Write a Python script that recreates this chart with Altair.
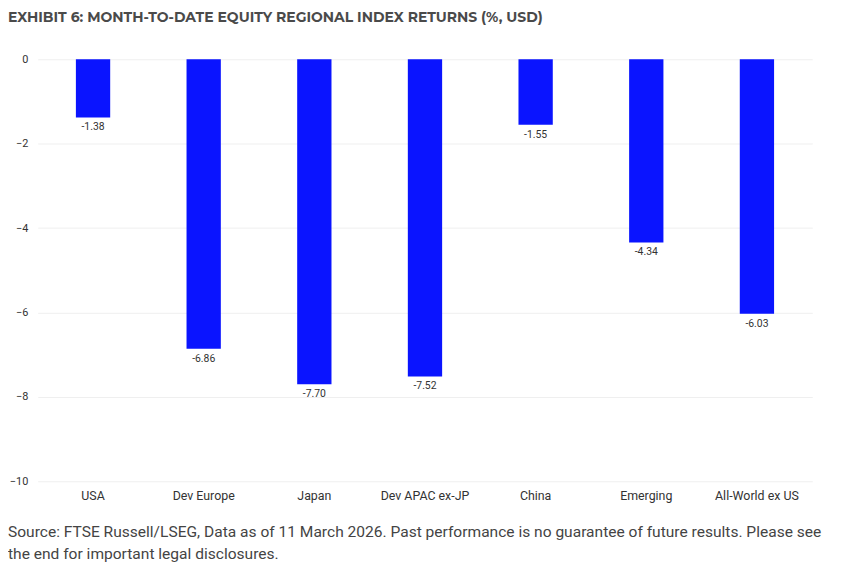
import altair as alt
import pandas as pd

regions = ["USA", "Dev Europe", "Japan", "Dev APAC ex-JP", "China", "Emerging", "All-World ex US"]
returns = [-1.38, -6.86, -7.70, -7.52, -1.55, -4.34, -6.03]
y_ticks = [0, -2, -4, -6, -8, -10]
title_text = "EXHIBIT 6: MONTH-TO-DATE EQUITY REGIONAL INDEX RETURNS (%, USD)"
footer_text = ("Source: FTSE Russell/LSEG, Data as of 11 March 2026. Past performance is no guarantee of future results. Please see\n"
               "the end for important legal disclosures.")

df = pd.DataFrame({"region": regions, "ret": returns})
df["label"] = [f"{v:.2f}" for v in returns]
foot = pd.DataFrame({"line": [footer_text]})

NARROW = "Liberation Sans Narrow, Arial Narrow, Roboto, sans-serif"

x = alt.X("region:N", sort=regions, title=None,
          scale=alt.Scale(paddingInner=0.69, paddingOuter=0.345),
          axis=alt.Axis(labelAngle=0, domain=False, ticks=False, labelPadding=8,
                        labelFontSize=12.5, labelColor="#333", labelFont=NARROW))
y = alt.Y("ret:Q", title=None,
          scale=alt.Scale(domain=[-10, 0], nice=False),
          axis=alt.Axis(values=y_ticks, domain=False, ticks=False, labelPadding=10,
                        labelFontSize=11, labelColor="#333", labelFont=NARROW,
                        gridColor="#efefef", format="d"))

bars = alt.Chart(df).mark_bar(color="#0a14ff").encode(x=x, y=y)
labels = alt.Chart(df).mark_text(baseline="top", dy=5, fontSize=10.5, color="#333", font=NARROW).encode(
    x=alt.X("region:N", sort=regions), y="ret:Q", text="label:N")

footer = alt.Chart(foot).mark_text(align="left", baseline="middle", fontSize=15.7, color="#444",
                                   font=NARROW, lineBreak="\n", lineHeight=23).encode(
    x=alt.value(-30), y=alt.value(477), text="line:N")

chart = alt.layer(bars, labels, footer).properties(
    width=782, height=426,
    autosize=alt.AutoSizeParams(type="none"),
    padding={"left": 30, "top": 49, "right": 26, "bottom": 100},
    title=alt.TitleParams(title_text, anchor="start", offset=29, fontSize=14.1,
                          font="Montserrat, Lato, Open Sans, sans-serif", fontWeight="bold",
                          color="#4a4a4a", limit=0)
).configure_view(stroke=None).configure_axis(gridWidth=1).configure_title(frame="bounds")

chart.save("out.html", embed_options={"renderer": "svg", "actions": False})
